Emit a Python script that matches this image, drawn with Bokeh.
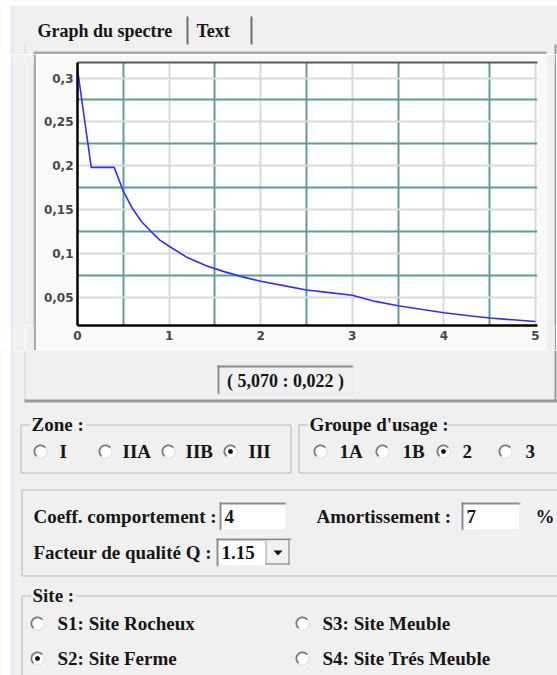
import math
from bokeh.plotting import figure
from bokeh.layouts import column, row
from bokeh.models import Range1d, FixedTicker, LinearAxis
from bokeh.core.properties import value
from bokeh.embed import file_html
from bokeh.resources import INLINE

# ---------------- data ----------------
periods = [0.0, 0.15, 0.4, 0.5, 0.6, 0.7, 0.8, 0.9, 1.0, 1.2, 1.4, 1.6, 1.8, 2.0,
           2.25, 2.5, 2.75, 3.0, 3.25, 3.5, 3.75, 4.0, 4.25, 4.5, 4.75, 5.0]
spectrum = [0.310, 0.198, 0.198, 0.171, 0.151, 0.136, 0.125, 0.115, 0.108, 0.095,
            0.086, 0.079, 0.073, 0.068, 0.063, 0.058, 0.055, 0.052, 0.045, 0.040,
            0.036, 0.032, 0.029, 0.026, 0.024, 0.022]
x_ticks = [0, 1, 2, 3, 4, 5]
x_minor = [0.5, 1.5, 2.5, 3.5, 4.5]
y_ticks = [0.05, 0.1, 0.15, 0.2, 0.25, 0.3]
y_minor = [0.075, 0.125, 0.175, 0.225, 0.275]
y_tick_labels = ["0,05", "0,1", "0,15", "0,2", "0,25", "0,3"]
tab_names = ["Graph du spectre", "Text"]
readout = "( 5,070 : 0,022 )"
zones = ["I", "IIA", "IIB", "III"]
zone_selected = "III"
groupes = ["1A", "1B", "2", "3"]
groupe_selected = "2"
coeff_comportement = "4"
amortissement = "7"
facteur_q = "1.15"
sites = ["S1: Site Rocheux", "S3: Site Meuble", "S2: Site Ferme", "S4: Site Trés Meuble"]
site_selected = "S2: Site Ferme"

# ---------------- layout constants (page pixels) ----------------
W, H = 557, 675
PT, PB = 54, 350          # inner chart panel top / bottom
PL, PR = 36, 546          # inner chart panel left / right
FL, FT, FR, FB = 77, 62, 537, 325   # chart frame
GRAY = "#f0f0f0"
PANEL = "#f9f9f9"
SERIF = "Liberation Serif"
TXT = "#161616"


def deco(x0, x1, y0, y1):
    f = figure(width=x1 - x0, height=y1 - y0, x_range=Range1d(x0, x1),
               y_range=Range1d(y1, y0), output_backend="svg", toolbar_location=None,
               x_axis_location=None, y_axis_location=None, min_border=0,
               outline_line_color=None, background_fill_color=GRAY,
               border_fill_color=GRAY)
    f.grid.visible = False
    return f


def solid(width, color):
    """A plain coloured strip beside the chart, same borders as the chart."""
    f = figure(width=width, height=PB - PT, output_backend="svg", toolbar_location=None,
               x_axis_location=None, y_axis_location=None,
               min_border_left=0, min_border_right=0,
               min_border_top=FT - PT, min_border_bottom=PB - FB,
               outline_line_color=None, background_fill_color=color,
               border_fill_color=color)
    f.grid.visible = False
    return f


def box(f, x0, y0, x1, y1, fill):
    f.quad(left=[x0], right=[x1], top=[y0], bottom=[y1], fill_color=fill,
           line_color=None)


def frame_line(f, x0, y0, x1, y1, color):
    f.quad(left=[x0 + 0.5], right=[x1 - 0.5], top=[y0 + 0.5], bottom=[y1 - 0.5],
           fill_alpha=0, line_color=color, line_width=1)


def txt(f, x, y, s, size=19, align="left", bold=True):
    f.text(x=[x], y=[y], text=[s], text_font=value(SERIF),
           text_font_size=f"{size}px", text_font_style="bold" if bold else "normal",
           text_align=align, text_baseline="middle", text_color=TXT)


def circle_pts(cx, cy, r, a0=0, a1=360, n=32):
    pts = [(cx + r * math.cos(math.radians(a0 + (a1 - a0) * i / n)),
            cy - r * math.sin(math.radians(a0 + (a1 - a0) * i / n))) for i in range(n + 1)]
    return [a for a, b in pts], [b for a, b in pts]


def patch(f, xs, ys, fill):
    f.patch(xs, ys, fill_color=fill, line_color=None)


def radio(f, cx, cy, checked):
    patch(f, *circle_pts(cx, cy, 7), "#dedede")
    patch(f, *circle_pts(cx, cy, 6), "white")
    ox, oy = circle_pts(cx, cy, 7, 40, 230, 16)
    ix, iy = circle_pts(cx, cy, 5.2, 40, 230, 16)
    patch(f, ox + ix[::-1], oy + iy[::-1], "#7c7c7c")
    if checked:
        patch(f, *circle_pts(cx, cy, 2.4), "#111111")


def sunken(f, x0, y0, x1, y1, fill):
    box(f, x0, y0, x1, y1, fill)
    box(f, x0, y0, x1, y0 + 2, "#8c8c8c")
    box(f, x0, y0, x0 + 2, y1, "#8c8c8c")
    box(f, x0, y1 - 1, x1, y1, "#e6e6e6")
    box(f, x1 - 1, y0, x1, y1, "#e6e6e6")


def strips(f, y0, y1):
    box(f, 0, y0, 10, y1, "white")
    box(f, 10, max(y0, 5), 14, y1, "#e4ecf7")


# ---------------- top strip: tabs ----------------
top = deco(0, W, 0, PT)
box(top, 0, 0, W, 5, "white")
strips(top, 0, PT)
box(top, 24, 44, 25, PT, "#d6d6d6")
box(top, 554, 44, 556, PT, "#9a9a9a")
box(top, 186, 16, 188, 44, "#6e6e6e")
box(top, 250, 16, 252, 44, "#6e6e6e")
box(top, 33, 51, 546, PT, "#a9a9a9")
txt(top, 37, 30, tab_names[0], size=18)
txt(top, 196, 30, tab_names[1], size=18)

# ---------------- side strips of the chart band ----------------
left_strips = [solid(w, c) for w, c in
               [(10, "white"), (4, "#e4ecf7"), (10, GRAY), (1, "#d6d6d6"),
                (8, GRAY), (3, "#a9a9a9")]]
right_strips = [solid(w, c) for w, c in [(8, GRAY), (2, "#9a9a9a"), (1, GRAY)]]

# ---------------- chart ----------------
p = figure(width=PR - PL, height=PB - PT, x_range=Range1d(0, 5.022),
           y_range=Range1d(0.0175, 0.3177), output_backend="svg",
           toolbar_location=None, min_border_left=FL - PL, min_border_right=PR - FR,
           min_border_top=FT - PT, min_border_bottom=PB - FB,
           border_fill_color=PANEL, background_fill_color="white",
           outline_line_color=None)
p.xaxis.ticker = FixedTicker(ticks=x_ticks)
p.yaxis.ticker = FixedTicker(ticks=y_ticks)
p.yaxis.major_label_overrides = dict(zip(y_ticks, y_tick_labels))
for ax in (p.xaxis[0], p.yaxis[0]):
    ax.axis_line_color = "black"
    ax.axis_line_width = 2.5
    ax.major_tick_line_color = None
    ax.minor_tick_line_color = None
    ax.major_tick_out = 0
    ax.major_tick_in = 0
    ax.minor_tick_out = 0
    ax.major_label_text_font = "DejaVu Sans"
    ax.major_label_text_font_style = "bold"
    ax.major_label_text_font_size = "12px"
    ax.major_label_text_color = "#484848"
p.xaxis.major_label_standoff = 5
p.yaxis.major_label_standoff = 4
top_ax = LinearAxis(ticker=FixedTicker(ticks=[]), axis_line_color="#5a5a5a",
                    axis_line_width=2, major_tick_line_color=None,
                    minor_tick_line_color=None, major_label_text_color=None,
                    major_label_text_font_size="0px",
                    major_tick_out=0, major_tick_in=0, minor_tick_out=0)
p.add_layout(top_ax, "above")
p.xgrid.ticker = FixedTicker(ticks=x_ticks, minor_ticks=x_minor)
p.ygrid.ticker = FixedTicker(ticks=y_ticks, minor_ticks=y_minor)
for g in (p.xgrid[0], p.ygrid[0]):
    g.grid_line_color = "#d9d9d9"
    g.grid_line_width = 2
    g.minor_grid_line_color = "#5f9c99"
    g.minor_grid_line_width = 2
p.line(periods, spectrum, line_color="#2f2fff", line_width=1.6)

# ---------------- bottom: readout and parameter groups ----------------
bot = deco(0, W, PB, H)
strips(bot, PB, H)
box(bot, 24, PB, 25, 401, "#d6d6d6")
box(bot, 554, PB, 556, 401, "#9a9a9a")
box(bot, 24, 399, W, 402, "#9a9a9a")

sunken(bot, 217, 365, 353, 394, GRAY)
txt(bot, 285, 380, readout, size=18, align="center")

# zone
frame_line(bot, 20, 424, 291, 473, "#b9b9b9")
box(bot, 30, 415, 86, 433, GRAY)
txt(bot, 31, 424, "Zone :")
for (cx, lx), z in zip([(40, 59), (105, 122), (168, 185), (230, 248)], zones):
    radio(bot, cx, 451, z == zone_selected)
    txt(bot, lx, 451, z)

# groupe d'usage
frame_line(bot, 298, 424, W + 5, 473, "#b9b9b9")
box(bot, 307, 415, 446, 433, GRAY)
txt(bot, 309, 424, "Groupe d'usage :")
for (cx, lx), g in zip([(320, 339), (382, 402), (443, 462), (505, 525)], groupes):
    radio(bot, cx, 451, g == groupe_selected)
    txt(bot, lx, 451, g)

# coefficients
frame_line(bot, 21, 489, W + 5, 576, "#b9b9b9")
txt(bot, 33, 516, "Coeff. comportement :")
sunken(bot, 219, 502, 286, 530, "white")
txt(bot, 224, 516, coeff_comportement)
txt(bot, 316, 516, "Amortissement :")
sunken(bot, 461, 502, 520, 530, "white")
txt(bot, 466, 516, amortissement)
txt(bot, 535, 516, "%")
txt(bot, 33, 552, "Facteur de qualité Q :")
sunken(bot, 216, 538, 291, 566, "white")
txt(bot, 221, 552, facteur_q)
box(bot, 265, 540, 289, 564, GRAY)
box(bot, 265, 540, 266, 564, "#a0a0a0")
box(bot, 265, 563, 289, 564, "#707070")
box(bot, 288, 540, 289, 564, "#707070")
patch(bot, [273, 282, 277.5], [550, 550, 555], "#111111")

# site
frame_line(bot, 21, 595, W + 5, H + 5, "#b9b9b9")
box(bot, 31, 586, 76, 604, GRAY)
txt(bot, 32, 595, "Site :")
for (cx, cy), s in zip([(37, 623), (302, 623), (37, 658), (302, 658)], sites):
    radio(bot, cx, cy, s == site_selected)
    txt(bot, cx + 20, cy, s)

layout = column(top, row(*left_strips, p, *right_strips), bot)
open("out.html", "w").write(file_html(layout, INLINE))
